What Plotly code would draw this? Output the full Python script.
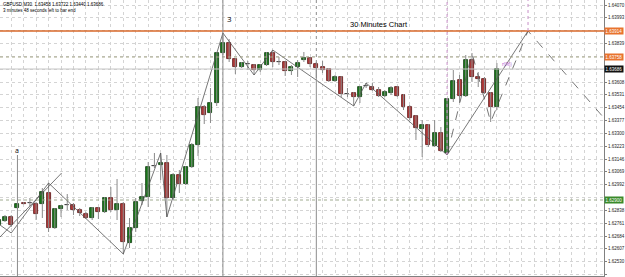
import plotly.graph_objects as go

# ---------------- data (GBPUSD M30 candles, index -1..79) ----------------
idx = list(range(-1, 80))
opens = [1.62750, 1.62774, 1.62798, 1.62852, 1.62882, 1.62882, 1.62876, 1.62876, 1.62942, 1.62732,
         1.62846, 1.62870, 1.62870, 1.62840, 1.62816, 1.62792, 1.62852, 1.62828, 1.62912, 1.62840,
         1.62876, 1.62642, 1.62732, 1.62894, 1.62918, 1.63104, 1.63110, 1.63122, 1.62912, 1.63050,
         1.62996, 1.63098, 1.63230, 1.63458, 1.63422, 1.63482, 1.63782, 1.63842, 1.63746, 1.63698,
         1.63716, 1.63710, 1.63680, 1.63710, 1.63782, 1.63728, 1.63728, 1.63674, 1.63698, 1.63740,
         1.63752, 1.63716, 1.63698, 1.63686, 1.63614, 1.63638, 1.63536, 1.63542, 1.63518, 1.63584,
         1.63578, 1.63560, 1.63524, 1.63542, 1.63578, 1.63530, 1.63458, 1.63404, 1.63326, 1.63350,
         1.63224, 1.63302, 1.63182, 1.63506, 1.63620, 1.63524, 1.63740, 1.63638, 1.63626, 1.63542,
         1.63458]
closes = [1.62780, 1.62798, 1.62750, 1.62876, 1.62878, 1.62881, 1.62816, 1.62948, 1.62732, 1.62846,
          1.62864, 1.62869, 1.62840, 1.62822, 1.62792, 1.62852, 1.62828, 1.62912, 1.62840, 1.62876,
          1.62648, 1.62732, 1.62888, 1.62918, 1.63098, 1.63106, 1.63122, 1.62912, 1.63050, 1.62996,
          1.63098, 1.63230, 1.63458, 1.63410, 1.63482, 1.63782, 1.63842, 1.63746, 1.63698, 1.63722,
          1.63714, 1.63680, 1.63710, 1.63782, 1.63728, 1.63726, 1.63674, 1.63698, 1.63722, 1.63752,
          1.63716, 1.63692, 1.63680, 1.63614, 1.63638, 1.63536, 1.63534, 1.63518, 1.63578, 1.63582,
          1.63560, 1.63524, 1.63548, 1.63572, 1.63524, 1.63458, 1.63392, 1.63332, 1.63350, 1.63230,
          1.63302, 1.63194, 1.63506, 1.63614, 1.63524, 1.63740, 1.63638, 1.63626, 1.63542, 1.63458,
          1.63686]
highs = [1.62792, 1.62810, 1.62810, 1.62882, 1.62888, 1.62912, 1.62888, 1.62972, 1.63002, 1.62852,
         1.62870, 1.62936, 1.62882, 1.62852, 1.62828, 1.62858, 1.62858, 1.62918, 1.62978, 1.63026,
         1.62888, 1.62792, 1.62912, 1.63002, 1.63128, 1.63182, 1.63182, 1.63170, 1.63062, 1.63080,
         1.63104, 1.63242, 1.63512, 1.63470, 1.63572, 1.63788, 1.63902, 1.63866, 1.63752, 1.63728,
         1.63734, 1.63716, 1.63716, 1.63788, 1.63800, 1.63758, 1.63734, 1.63710, 1.63740, 1.63788,
         1.63758, 1.63728, 1.63734, 1.63692, 1.63650, 1.63644, 1.63572, 1.63548, 1.63584, 1.63602,
         1.63602, 1.63578, 1.63560, 1.63584, 1.63584, 1.63536, 1.63470, 1.63410, 1.63380, 1.63356,
         1.63380, 1.63338, 1.63512, 1.63680, 1.63650, 1.63770, 1.63782, 1.63668, 1.63638, 1.63548,
         1.63722]
lows = [1.62732, 1.62768, 1.62738, 1.62846, 1.62874, 1.62864, 1.62780, 1.62792, 1.62708, 1.62726,
        1.62798, 1.62840, 1.62810, 1.62804, 1.62786, 1.62780, 1.62786, 1.62822, 1.62828, 1.62780,
        1.62576, 1.62612, 1.62708, 1.62870, 1.62858, 1.63092, 1.63020, 1.62798, 1.62900, 1.62942,
        1.62990, 1.63092, 1.63164, 1.63356, 1.63362, 1.63464, 1.63770, 1.63728, 1.63656, 1.63692,
        1.63680, 1.63650, 1.63668, 1.63704, 1.63698, 1.63710, 1.63644, 1.63650, 1.63638, 1.63728,
        1.63698, 1.63632, 1.63662, 1.63608, 1.63608, 1.63518, 1.63518, 1.63464, 1.63482, 1.63572,
        1.63554, 1.63518, 1.63518, 1.63530, 1.63518, 1.63440, 1.63380, 1.63260, 1.63158, 1.63218,
        1.63218, 1.63188, 1.63170, 1.63488, 1.63482, 1.63518, 1.63608, 1.63578, 1.63536, 1.63368,
        1.63440]

# price-axis tick labels
tick_values = [1.64070, 1.63993, 1.63916, 1.63839, 1.63762, 1.63685, 1.63608, 1.63531, 1.63454,
               1.63377, 1.63300, 1.63223, 1.63146, 1.63069, 1.62992, 1.62915, 1.62838, 1.62761,
               1.62684, 1.62607, 1.62530, 1.62453]
tick_labels = ["1.64070", "1.63993", "1.63916", "1.63839", "1.63762", "1.63685", "1.63608",
               "1.63531", "1.63454", "1.63377", "1.63300", "1.63223", "1.63146", "1.63069",
               "1.62992", "1.62915", "1.62838", "1.62761", "1.62684", "1.62607", "1.62530",
               "1.62453"]

# horizontal levels
resistance_level = 1.63914
ask_level = 1.63758
bid_level = 1.63686
support_level = 1.62900
levels = [resistance_level, ask_level, bid_level, support_level]

# zigzag (solid) and projection (dashed) lines
zz_x = [-0.8, 1, 7, 19, 25, 26, 35, 40, 43, 56, 58, 71, 84]
zz_y = [1.62750, 1.62702, 1.63002, 1.62576, 1.63182, 1.62798, 1.63902, 1.63650, 1.63800,
        1.63464, 1.63602, 1.63170, 1.63914]
trend_x = [-0.8, 9.1]
trend_y = [1.62678, 1.63062]
proj_x = [71, 75, 78, 84, 96.2]
proj_y = [1.63170, 1.63782, 1.63368, 1.63914, 1.63392]

header = "GBPUSD,M30  1.63458 1.63722 1.63440 1.63686<br>3 minutes 48 seconds left to bar end"

# ---------------- figure ----------------
XR = [-0.8, 96.2]
YR = [1.62444, 1.64100]
GREEN, GREEN_LINE = "#1c7a1c", "#0c3a0c"
RED, RED_LINE = "#b23a3a", "#5a1414"

fig = go.Figure()

# wicks
wx, wy = [], []
for i, h, l in zip(idx, highs, lows):
    wx += [i, i, None]
    wy += [h, l, None]
fig.add_trace(go.Scatter(x=wx, y=wy, mode="lines", line=dict(color="#8a8a8a", width=1),
                         hoverinfo="skip", showlegend=False))

# bodies
base = [min(o, c) for o, c in zip(opens, closes)]
height = [max(abs(c - o), 0.000015) for o, c in zip(opens, closes)]
fill = [GREEN if c > o else RED for o, c in zip(opens, closes)]
edge = [GREEN_LINE if c > o else RED_LINE for o, c in zip(opens, closes)]
for k, (o, c) in enumerate(zip(opens, closes)):
    if abs(c - o) < 0.00003:
        fill[k] = "#333333"
        edge[k] = "#333333"
fig.add_trace(go.Bar(x=idx, y=height, base=base, width=0.64,
                     marker=dict(color=fill, line=dict(color=edge, width=0.8)),
                     showlegend=False, hoverinfo="skip"))

# zigzag lines
fig.add_trace(go.Scatter(x=trend_x, y=trend_y, mode="lines",
                         line=dict(color="#555555", width=0.8), showlegend=False))
fig.add_trace(go.Scatter(x=zz_x, y=zz_y, mode="lines",
                         line=dict(color="#555555", width=0.8), showlegend=False))
fig.add_trace(go.Scatter(x=proj_x, y=proj_y, mode="lines",
                         line=dict(color="#555555", width=0.8, dash="dash"), showlegend=False))

# horizontal levels
fig.add_shape(type="line", xref="paper", x0=0, x1=1, y0=resistance_level, y1=resistance_level,
              line=dict(color="#d8692a", width=1.3))
fig.add_shape(type="line", xref="paper", x0=0, x1=1, y0=ask_level, y1=ask_level,
              line=dict(color="#a8a88a", width=1, dash="dot"))
fig.add_shape(type="line", xref="paper", x0=0, x1=1, y0=bid_level, y1=bid_level,
              line=dict(color="#c4c4c4", width=1))
fig.add_shape(type="line", xref="paper", x0=0, x1=1, y0=support_level, y1=support_level,
              line=dict(color="#a0ab90", width=1, dash="dot"))

# vertical markers
fig.add_shape(type="line", x0=2, x1=2, y0=YR[0], y1=1.63170, line=dict(color="#8c8c8c", width=1))
fig.add_shape(type="line", x0=35, x1=35, y0=YR[0], y1=YR[1], line=dict(color="#8c8c8c", width=1))
fig.add_shape(type="line", x0=50, x1=50, y0=YR[0], y1=1.63686, line=dict(color="#8c8c8c", width=1))
fig.add_shape(type="line", x0=50, x1=50, y0=1.63686, y1=YR[1], line=dict(color="#8c8c8c", width=1, dash="dot"))
fig.add_shape(type="line", x0=71, x1=71, y0=1.63170, y1=YR[1], line=dict(color="#c890c8", width=1, dash="dot"))
fig.add_shape(type="line", x0=84, x1=84, y0=1.63914, y1=YR[1], line=dict(color="#c890c8", width=1, dash="dot"))

# texts
fig.add_annotation(x=2, y=1.63200, text="a", showarrow=False, font=dict(size=7, color="black"))
fig.add_annotation(x=36, y=1.63992, text="3", showarrow=False, font=dict(size=8, color="black"))
fig.add_annotation(x=60, y=1.63956, text="30 Minutes Chart", showarrow=False,
                   font=dict(size=7.5, color="black", family="Arial"))
fig.add_annotation(x=80.7, y=1.63716, text="r(96)", showarrow=False, font=dict(size=4.5, color="#b050d0"))
fig.add_annotation(xref="paper", yref="paper", x=0.002, y=1, xanchor="left", yanchor="top",
                   text=header, showarrow=False, align="left",
                   font=dict(size=4.5, color="black", family="Arial"))

# price boxes on axis (they cover the regular tick label at the same height)
for lvl, bg, fc in [(resistance_level, "#e8732e", "white"), (ask_level, "#e8732e", "white"),
                    (bid_level, "#101010", "white"), (support_level, "#3a8a2a", "white")]:
    fig.add_annotation(xref="paper", x=1.0, xanchor="left", y=lvl, text=f"{lvl:.5f}",
                       showarrow=False, bgcolor=bg, borderpad=0.6,
                       font=dict(size=4.5, color=fc, family="Arial"))

shown_text = [("" if any(abs(v - L) < 0.0003 for L in levels) else t)
              for v, t in zip(tick_values, tick_labels)]

fig.update_layout(
    width=625, height=277,
    margin=dict(l=0, r=16, t=0, b=1),
    paper_bgcolor="white", plot_bgcolor="white",
    bargap=0, showlegend=False,
    xaxis=dict(range=XR, tickvals=list(range(-1, 97, 2)), showticklabels=False, ticks="",
               showgrid=True, gridcolor="#d4d4d4", griddash="dot", gridwidth=1,
               zeroline=False, showline=True, linecolor="#808080", linewidth=1),
    yaxis=dict(range=YR, side="right", tickvals=tick_values, ticktext=shown_text,
               tickfont=dict(size=4.5, color="#222222", family="Arial"),
               ticks="outside", ticklen=2, tickcolor="#808080",
               showgrid=True, gridcolor="#d4d4d4", griddash="dot", gridwidth=1,
               zeroline=False, showline=True, linecolor="#808080", linewidth=1),
)

fig.write_html("out.html")
